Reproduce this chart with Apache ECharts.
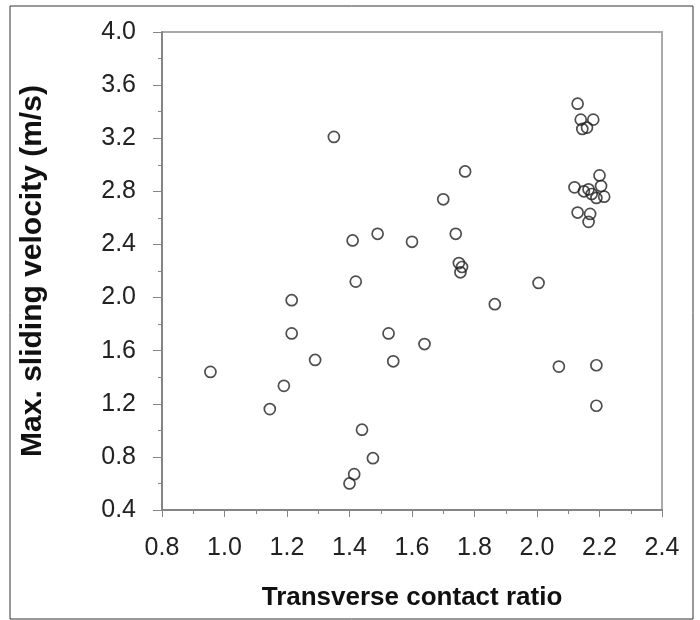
<!DOCTYPE html>
<html lang="en">

<head>
    <meta charset="UTF-8">
    <title>Sliding velocity</title>
    <script src="https://cdn.jsdelivr.net/npm/echarts@6.0.0/dist/echarts.min.js"></script>
</head>

<body style="margin:0;background:#fff;">
    <div id="main" style="width: 700px;height:620px;"></div>
    <script type="text/javascript">
        // values
        const contactRatio = [
            1.35, 1.41, 1.49, 1.60, 2.13, 2.14, 2.18, 2.145, 2.16, 1.77,
            1.70, 2.20, 2.12, 2.15, 2.165, 2.205, 2.19, 2.215, 2.175, 2.13,
            2.17, 2.165, 1.74, 1.75, 1.76, 1.755, 2.005, 1.865, 1.64, 2.07,
            2.19, 2.19, 1.42, 1.215, 1.215, 1.525, 1.29, 1.54, 0.955, 1.19,
            1.145, 1.44, 1.475, 1.415, 1.40
        ];
        const slidingVelocity = [
            3.21, 2.43, 2.48, 2.42, 3.46, 3.34, 3.34, 3.27, 3.28, 2.95,
            2.74, 2.92, 2.83, 2.80, 2.815, 2.84, 2.75, 2.76, 2.78, 2.64,
            2.63, 2.57, 2.48, 2.26, 2.23, 2.19, 2.11, 1.95, 1.65, 1.48,
            1.49, 1.185, 2.12, 1.98, 1.73, 1.73, 1.53, 1.52, 1.44, 1.335,
            1.16, 1.005, 0.79, 0.67, 0.60
        ];

        let myChart = echarts.init(document.getElementById('main'));

        const points = contactRatio.map((x, i) => [x, slidingVelocity[i]]);
        const axisGrey = '#858585';
        const fontName = 'Liberation Sans, Arial, sans-serif';
        const labelFont = { color: '#222', fontSize: 25, fontFamily: fontName };

        let options = {
            animation: false,
            backgroundColor: '#fff',
            grid: { left: 162, top: 32, right: 38, bottom: 110 },
            xAxis: {
                type: 'value',
                min: 0.8, max: 2.4, interval: 0.2,
                name: 'Transverse contact ratio',
                nameLocation: 'middle',
                nameGap: 75,
                nameTextStyle: { color: '#111', fontSize: 26, fontWeight: 'bold', fontFamily: fontName },
                axisLine: { show: true, lineStyle: { color: axisGrey, width: 2 } },
                axisTick: { show: true, inside: false, length: 7, lineStyle: { color: axisGrey } },
                minorTick: { show: true, splitNumber: 2, length: 4, lineStyle: { color: axisGrey } },
                splitLine: { show: false },
                axisLabel: Object.assign({ margin: 26, formatter: v => v.toFixed(1) }, labelFont)
            },
            yAxis: {
                type: 'value',
                min: 0.4, max: 4.0, interval: 0.4,
                name: 'Max. sliding velocity (m/s)',
                nameLocation: 'middle',
                nameRotate: 90,
                nameGap: 114,
                nameTextStyle: { color: '#111', fontSize: 30, fontWeight: 'bold', fontFamily: fontName },
                axisLine: { show: true, lineStyle: { color: axisGrey, width: 2 } },
                axisTick: { show: true, inside: false, length: 9, lineStyle: { color: axisGrey } },
                minorTick: { show: true, splitNumber: 2, length: 4, lineStyle: { color: axisGrey } },
                splitLine: { show: false },
                axisLabel: Object.assign({ margin: 26, formatter: v => v.toFixed(1) }, labelFont)
            },
            graphic: [
                {
                    // plot frame top and right
                    type: 'polyline',
                    shape: { points: [[162, 32], [662, 32], [662, 510]] },
                    style: { stroke: '#aaa', lineWidth: 2, fill: null },
                    silent: true
                },
                {
                    type: 'rect',
                    shape: { x: 10, y: 6, width: 683, height: 613 },
                    style: { stroke: '#333', lineWidth: 1, fill: null },
                    silent: true
                }
            ],
            series: [{
                type: 'scatter',
                data: points,
                symbol: 'circle',
                symbolSize: 11,
                itemStyle: { color: 'rgba(255,255,255,0)', borderColor: '#222', borderWidth: 1.7 }
            }]
        };

        myChart.setOption(options);
    </script>
</body>

</html>
